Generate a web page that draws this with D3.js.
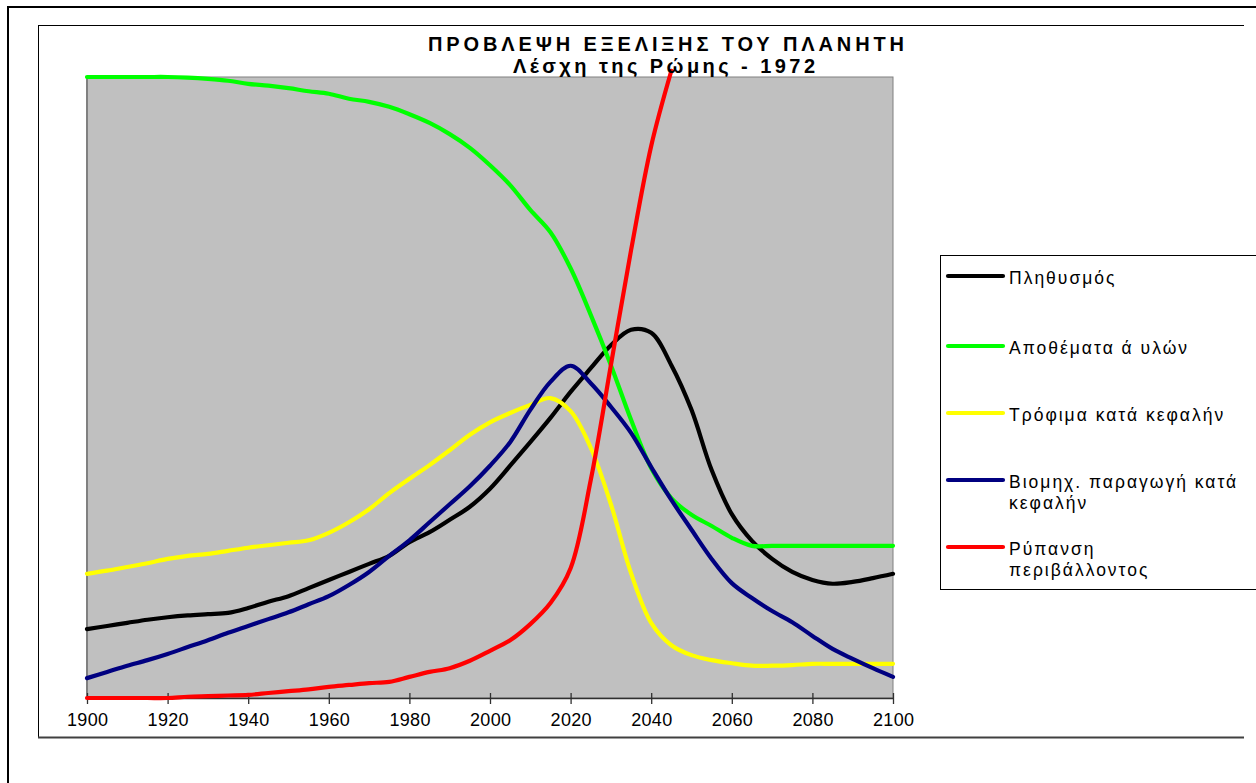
<!DOCTYPE html>
<html><head><meta charset="utf-8">
<script src="https://cdn.jsdelivr.net/npm/d3@7"></script>
<style>
html,body{margin:0;padding:0;background:#fff;}
svg{display:block;font-family:Arial,"Liberation Sans",sans-serif;}
</style></head>
<body>
<svg id="chart" width="1256" height="783"></svg>
<script>
const years = [1900,1905,1910,1915,1920,1925,1930,1935,1940,1945,1950,1955,1960,1965,1970,1975,1980,1985,1990,1995,2000,2005,2010,2015,2020,2025,2030,2035,2040,2045,2050,2055,2060,2065,2070,2075,2080,2085,2090,2095,2100];
const population = [11.1,11.6,12.1,12.6,13.0,13.3,13.5,13.7,14.5,15.5,16.4,17.7,19.0,20.3,21.6,22.9,25.1,26.7,28.7,30.8,33.7,37.4,41.2,45.1,49.3,53.1,56.8,59.3,58.8,53.6,46.4,36.7,29.6,25.3,22.4,20.3,19.0,18.4,18.7,19.3,20.0];
const resources = [100,100,100,100,100,99.9,99.7,99.4,98.9,98.6,98.2,97.7,97.3,96.5,96.0,95.2,94.0,92.6,90.8,88.6,85.8,82.6,78.6,75.0,69.2,61.7,53.6,44.8,37.0,32.2,29.5,27.7,25.8,24.5,24.5,24.5,24.5,24.5,24.5,24.5,24.5];
const food = [20.0,20.5,21.1,21.7,22.4,22.9,23.2,23.7,24.2,24.6,25.0,25.4,26.6,28.3,30.4,33.0,35.3,37.5,39.9,42.4,44.4,45.9,47.2,48.3,46.2,40.3,31.2,20.1,12.1,8.5,6.9,6.1,5.6,5.2,5.2,5.3,5.5,5.5,5.5,5.5,5.5];
const industry = [3.2,4.2,5.2,6.1,7.1,8.2,9.3,10.5,11.6,12.7,13.8,15.1,16.4,18.2,20.3,22.9,25.4,28.3,31.2,34.1,37.4,41.2,46.4,50.9,53.5,50.7,46.9,42.7,37.2,31.9,27.1,22.4,18.5,16.1,14.0,12.2,10.0,7.9,6.3,4.8,3.4];
const pollution = [0,0,0,0,0,0.2,0.3,0.4,0.5,0.8,1.1,1.4,1.8,2.1,2.4,2.6,3.4,4.2,4.8,6.0,7.6,9.3,11.9,15.3,20.9,35.1,53.6,72.1,88.9,101,null,null,null,null,null,null,null,null,null,null,null];
const tickYears = [1900,1920,1940,1960,1980,2000,2020,2040,2060,2080,2100];
const titleLines = ["ΠΡΟΒΛΕΨΗ ΕΞΕΛΙΞΗΣ ΤΟΥ ΠΛΑΝΗΤΗ","Λέσχη της Ρώμης - 1972"];
const seriesNames = ["Πληθυσμός","Αποθέματα ά υλών","Τρόφιμα κατά κεφαλήν","Βιομηχ. παραγωγή κατά\nκεφαλήν","Ρύπανση\nπεριβάλλοντος"];
const seriesColors = ["#000000","#00ff00","#ffff00","#000080","#ff0000"];
const seriesValues = [population,resources,food,industry,pollution];

const svg = d3.select("#chart");
// frames
svg.append("line").attr("x1",8).attr("y1",7).attr("x2",1256).attr("y2",7).attr("stroke","#000").attr("stroke-width",2);
svg.append("line").attr("x1",8).attr("y1",6).attr("x2",8).attr("y2",783).attr("stroke","#000").attr("stroke-width",2);
svg.append("line").attr("x1",38.5).attr("y1",25.5).attr("x2",1244).attr("y2",25.5).attr("stroke","#000").attr("stroke-width",1);
svg.append("line").attr("x1",38.5).attr("y1",25).attr("x2",38.5).attr("y2",738).attr("stroke","#000").attr("stroke-width",1);
svg.append("line").attr("x1",38).attr("y1",737.5).attr("x2",1244).attr("y2",737.5).attr("stroke","#404040").attr("stroke-width",2);

const x = d3.scaleLinear().domain([1900,2100]).range([87,893]);
const y = d3.scaleLinear().domain([0,100]).range([698,77]);

// plot area
svg.append("rect").attr("x",x(1900)).attr("y",y(100)).attr("width",x(2100)-x(1900)).attr("height",y(0)-y(100))
  .attr("fill","#c0c0c0").attr("stroke","#808080").attr("stroke-width",1);
svg.append("line").attr("x1",x(1900)).attr("x2",x(1900)).attr("y1",y(100)).attr("y2",y(0)).attr("stroke","#808080").attr("stroke-width",2);

// axis
const ax = svg.append("g").attr("transform",`translate(0,${y(0)})`)
  .call(d3.axisBottom(x).tickValues(tickYears).tickFormat(d3.format("d")).tickSize(6).tickSizeOuter(0));
ax.select(".domain").attr("stroke","#303030").attr("stroke-width",1.5);
ax.selectAll(".tick line").attr("stroke","#303030").attr("stroke-width",1.3).attr("y1",-5).attr("y2",6);
ax.selectAll(".tick text").attr("fill","#000").attr("font-size",18).attr("font-family","Arial,'Liberation Sans',sans-serif")
  .attr("y",15).attr("dy","0.71em").attr("textLength",41).attr("lengthAdjust","spacing");

// lines
const line = d3.line().defined(d=>d[1]!=null).x(d=>x(d[0])).y(d=>y(d[1])).curve(d3.curveCatmullRom.alpha(0.5));
seriesValues.forEach((vals,i)=>{
  svg.append("path").datum(years.map((yr,j)=>[yr,vals[j]]))
    .attr("d",line).attr("fill","none").attr("stroke",seriesColors[i]).attr("stroke-width",4.2)
    .attr("stroke-linecap","round").attr("stroke-linejoin","round");
});

// title
svg.append("text").attr("x",666).attr("y",50.5).attr("text-anchor","middle").attr("font-size",20).attr("font-weight","bold")
  .attr("textLength",476).attr("lengthAdjust","spacing").text(titleLines[0]);
svg.append("text").attr("x",664).attr("y",73).attr("text-anchor","middle").attr("font-size",20).attr("font-weight","bold")
  .attr("textLength",302).attr("lengthAdjust","spacing").text(titleLines[1]);

// legend
svg.append("rect").attr("x",940.5).attr("y",255.5).attr("width",400).attr("height",334).attr("fill","#fff").attr("stroke","#000").attr("stroke-width",1);
const legY = [276,346,413,480,547];
seriesNames.forEach((name,i)=>{
  svg.append("line").attr("x1",948).attr("x2",1003).attr("y1",legY[i]).attr("y2",legY[i])
    .attr("stroke",seriesColors[i]).attr("stroke-width",4.2).attr("stroke-linecap","round");
  name.split("\n").forEach((t,k)=>{
    svg.append("text").attr("x",1009).attr("y",legY[i]+8+k*21).attr("font-size",17.5).attr("letter-spacing","2px").attr("fill","#000").text(t);
  });
});
</script>
</body></html>
